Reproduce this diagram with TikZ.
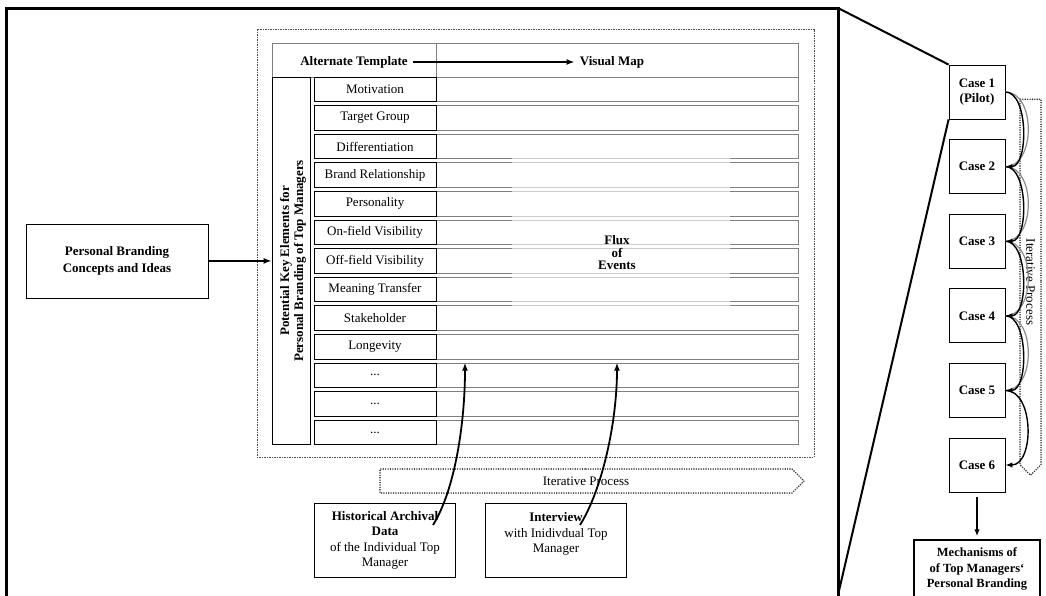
\documentclass[tikz,border=0pt]{standalone}
\usepackage{fontspec}
\setmainfont{Liberation Serif}
\usetikzlibrary{arrows.meta,shapes.symbols}

\begin{document}
\begin{tikzpicture}[x=1pt, y=-1pt, line width=0.8pt,
    every node/.style={font=\fontsize{13}{15.5}\selectfont, inner sep=0pt},
    elem/.style={rectangle, draw, minimum width=122pt, minimum height=24.5pt},
    mapbox/.style={rectangle, draw=black!50, minimum width=362pt, minimum height=24.5pt},
    casebox/.style={rectangle, draw, minimum width=56pt, minimum height=54pt, align=center, font=\fontsize{13}{15}\selectfont\bfseries},
    srcbox/.style={rectangle, draw, minimum width=141pt, minimum height=74pt, align=center},
    link/.style={-{Latex[length=8pt,width=6pt]}, line width=1.8pt},
    caselink/.style={-{Latex[length=7pt,width=5.5pt]}, line width=1.4pt},
    iter/.style={signal, draw=black!85, line width=1.6pt, line cap=round, dash pattern=on 0pt off 2.4pt, signal from=nowhere, signal to=east}
]

\path[use as bounding box, fill=white] (0,0) rectangle (1046,595);

% frame of the study design
\draw[line width=3pt] (6,600) -- (6,8) -- (838,8) -- (838,600);
\coordinate (zoomtop) at (838,8);
\coordinate (zoombot) at (838,595);

\draw[black!70, line width=0.7pt, dash pattern=on 1.5pt off 1pt] (257,29) rectangle (814,457);

% header
\node[rectangle, draw=black!50, minimum width=164pt, minimum height=34pt] (althead) at (354,60) {};
\node[rectangle, draw=black!50, minimum width=362pt, minimum height=34pt] (maphead) at (617,60) {};
\node[font=\fontsize{13}{15}\selectfont\bfseries, inner sep=5pt] (alt) at (354,62) {Alternate Template};
\node[font=\fontsize{13}{15}\selectfont\bfseries, inner sep=5pt] (vis) at (612,62) {Visual Map};
\draw[link, line width=1.5pt] (alt) -- (vis);

% key elements
\node[mapbox] (map1) at (617,89.3) {};
\node[mapbox] (map2) at (617,117.9) {};
\node[mapbox] (map3) at (617,146.5) {};
\node[mapbox] (map4) at (617,175.1) {};
\node[mapbox] (map5) at (617,203.7) {};
\node[mapbox] (map6) at (617,232.3) {};
\node[mapbox] (map7) at (617,260.9) {};
\node[mapbox] (map8) at (617,289.5) {};
\node[mapbox] (map9) at (617,318.1) {};
\node[mapbox] (map10) at (617,346.7) {};
\node[mapbox] (map11) at (617,375.3) {};
\node[mapbox] (map12) at (617,403.9) {};
\node[mapbox] (map13) at (617,432.5) {};

\node[elem] (el1) at (375,89.3) {Motivation};
\node[elem] (el2) at (375,117.9) {Target Group};
\node[elem] (el3) at (375,146.5) {Differentiation};
\node[elem] (el4) at (375,175.1) {Brand Relationship};
\node[elem] (el5) at (375,203.7) {Personality};
\node[elem] (el6) at (375,232.3) {On-field Visibility};
\node[elem] (el7) at (375,260.9) {Off-field Visibility};
\node[elem] (el8) at (375,289.5) {Meaning Transfer};
\node[elem] (el9) at (375,318.1) {Stakeholder};
\node[elem] (el10) at (375,346.7) {Longevity};
\node[elem] (el11) at (375,375.3) {...};
\node[elem] (el12) at (375,403.9) {...};
\node[elem] (el13) at (375,432.5) {...};

\fill[white, opacity=0.6] (512,156) rectangle (730,307);
\node[align=center, font=\fontsize{13}{12.5}\selectfont\bfseries] (flux) at (617,253) {Flux\\of\\Events};

\node[rectangle, draw, minimum width=38.5pt, minimum height=367.5pt] (keycol) at (291.3,260.9) {};
\node[rotate=90, align=center, font=\fontsize{13}{14}\selectfont\bfseries] (keytext) at (293,260.9) {Potential Key Elements for\\Personal Branding of Top Managers};

% concepts
\node[rectangle, draw, minimum width=182pt, minimum height=74pt, align=center, font=\fontsize{13}{16.5}\selectfont\bfseries] (pbc) at (117,260.9) {Personal Branding\\Concepts and Ideas};
\draw[link] (pbc) -- (keycol);

% data sources
\node[iter, minimum width=424pt, minimum height=24pt] (iterh) at (586,481) {Iterative Process};

\node[srcbox] (hist) at (385,540.5) {{\bfseries Historical Archival}\\{\bfseries Data}\\of the Individual Top\\Manager};
\node[srcbox] (intv) at (556,540.5) {{\bfseries Interview}\\with Inidivdual Top\\Manager\\\mbox{}};
\coordinate (histsrc) at ([shift={(48,-15.5)}]hist.center);
\coordinate (intvsrc) at ([shift={(24,-15.5)}]intv.center);
\draw[link] (histsrc) .. controls +(22,-35) and +(0,60) .. ([xshift=-152pt]map11.north);
\draw[link] (intvsrc) .. controls +(22,-35) and +(0,60) .. (map11.north);

% cases
\node[iter, rotate=-90, minimum width=376pt, minimum height=21pt] (iterv) at (1030.5,282) {Iterative Process};

\node[casebox] (case1) at (977,92) {Case 1\\(Pilot)};
\node[casebox] (case2) at (977,166.6) {Case 2};
\node[casebox] (case3) at (977,241.2) {Case 3};
\node[casebox] (case4) at (977,315.8) {Case 4};
\node[casebox] (case5) at (977,390.4) {Case 5};
\node[casebox] (case6) at (977,465) {Case 6};

\draw[black!45, line width=1.2pt] (case1.east) to[out=0, in=0, looseness=1.05] (case2.east);
\draw[black!45, line width=1.2pt] (case2.east) to[out=0, in=0, looseness=1.05] (case3.east);
\draw[black!45, line width=1.2pt] (case3.east) to[out=0, in=0, looseness=1.05] (case4.east);
\draw[black!45, line width=1.2pt] (case4.east) to[out=0, in=0, looseness=1.05] (case5.east);
\draw[caselink] (case1.east) to[out=0, in=0, looseness=0.8] (case2.east);
\draw[caselink] (case2.east) to[out=0, in=0, looseness=0.8] (case3.east);
\draw[caselink] (case3.east) to[out=0, in=0, looseness=0.8] (case4.east);
\draw[caselink] (case4.east) to[out=0, in=0, looseness=0.8] (case5.east);
\draw[caselink] (case5.east) to[out=0, in=0, looseness=1.0] (case6.east);

\node[rectangle, draw, line width=1.5pt, minimum width=126pt, minimum height=58pt, align=center, font=\fontsize{12.5}{15.5}\selectfont\bfseries] (mech) at (977,569) {Mechanisms of\\of Top Managers‘\\Personal Branding};
\draw[caselink] ([yshift=-5pt]case6.south) -- ([yshift=3pt]mech.north);

\draw[line width=2pt] (zoomtop) -- (case1.north west);
\draw[line width=2pt] (case1.south west) -- (zoombot);

\end{tikzpicture}
\end{document}
